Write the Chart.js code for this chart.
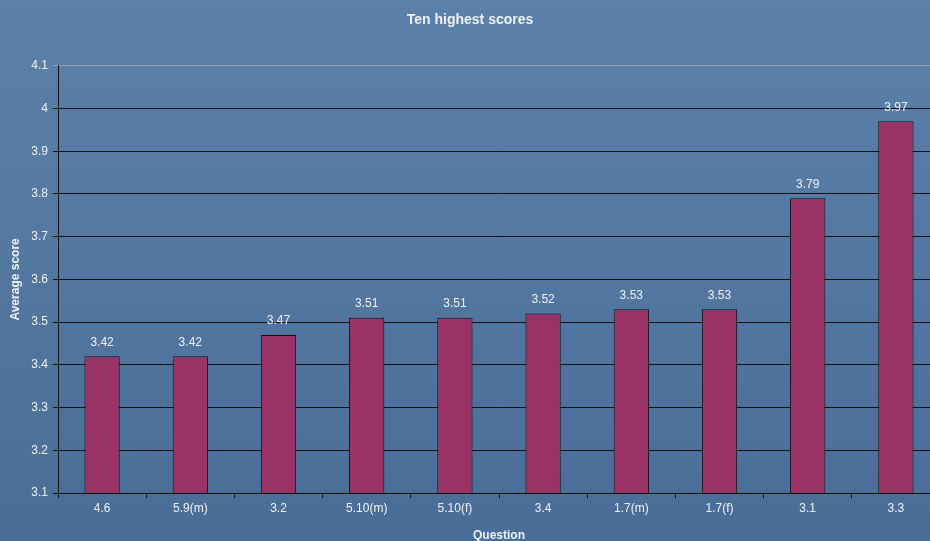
<!DOCTYPE html>
<html lang="en">
<head>
<meta charset="UTF-8">
<title>Ten highest scores</title>
<script src="https://cdn.jsdelivr.net/npm/chart.js"></script>
<style>
    html, body { margin: 0; padding: 0; overflow: hidden; background: #5478a2; }
    .chart-container { position: relative; width: 940px; height: 541px; }
</style>
</head>
<body>
<div class="chart-container">
    <canvas id="scoresChart"></canvas>
</div>
<script>
    const questions = ['4.6', '5.9(m)', '3.2', '5.10(m)', '5.10(f)', '3.4', '1.7(m)', '1.7(f)', '3.1', '3.3'];
    const averageScores = [3.42, 3.42, 3.47, 3.51, 3.51, 3.52, 3.53, 3.53, 3.79, 3.97];
    const yMin = 3.1;
    const yMax = 4.1;
    const yStep = 0.1;

    const textColor = '#eef2f7';
    const fontFamily = '"Liberation Sans", Arial, sans-serif';

    const background = {
        id: 'background',
        beforeDraw(chart) {
            const ctx = chart.ctx;
            const g = ctx.createLinearGradient(0, 0, 0, chart.height);
            g.addColorStop(0, '#5b81aa');
            g.addColorStop(1, '#4a6d97');
            ctx.save();
            ctx.fillStyle = g;
            ctx.fillRect(0, 0, chart.width, chart.height);
            ctx.restore();
        }
    };

    const valueLabels = {
        id: 'valueLabels',
        afterDatasetsDraw(chart) {
            const ctx = chart.ctx;
            const meta = chart.getDatasetMeta(0);
            ctx.save();
            ctx.fillStyle = textColor;
            ctx.font = '12px ' + fontFamily;
            ctx.textAlign = 'center';
            ctx.textBaseline = 'middle';
            meta.data.forEach((bar, i) => {
                ctx.fillText(averageScores[i].toFixed(2), bar.x, bar.y - 14);
            });
            ctx.restore();
        }
    };

    new Chart(document.getElementById('scoresChart'), {
        type: 'bar',
        data: {
            labels: questions,
            datasets: [{
                data: averageScores,
                backgroundColor: '#993366',
                borderColor: '#111111',
                borderWidth: 1,
                borderSkipped: false,
                barPercentage: 0.4,
                categoryPercentage: 1
            }]
        },
        options: {
            responsive: true,
            maintainAspectRatio: false,
            animation: false,
            layout: { padding: 0 },
            plugins: {
                legend: { display: false },
                tooltip: { enabled: false },
                title: {
                    display: true,
                    text: 'Ten highest scores',
                    color: textColor,
                    font: { family: fontFamily, size: 14, weight: 'bold' },
                    padding: { top: 12, bottom: 37 }
                }
            },
            scales: {
                x: {
                    grid: {
                        drawOnChartArea: false,
                        color: '#111111',
                        tickLength: 5,
                        offset: true
                    },
                    border: { color: '#111111', width: 1 },
                    ticks: {
                        color: textColor,
                        font: { family: fontFamily, size: 12 },
                        padding: 3,
                        maxRotation: 0
                    },
                    title: {
                        display: true,
                        text: 'Question',
                        color: textColor,
                        font: { family: fontFamily, size: 12, weight: 'bold' },
                        padding: { top: 0, bottom: -2 }
                    },
                    afterFit(scale) { scale.height = 48; }
                },
                y: {
                    min: yMin,
                    max: yMax,
                    grid: {
                        color: ctx => (ctx.tick && Math.abs(ctx.tick.value - yMax) < 1e-6) ? 'rgba(160,170,180,0.9)' : '#111111',
                        tickLength: 5
                    },
                    border: { color: '#111111', width: 1 },
                    ticks: {
                        stepSize: yStep,
                        color: textColor,
                        font: { family: fontFamily, size: 12 },
                        padding: 5,
                        callback: v => Number(v.toFixed(1)).toString()
                    },
                    title: {
                        display: true,
                        text: 'Average score',
                        color: textColor,
                        font: { family: fontFamily, size: 12, weight: 'bold' },
                        padding: { top: 8, bottom: 0 }
                    },
                    afterFit(scale) { scale.width = 58; }
                }
            }
        },
        plugins: [background, valueLabels]
    });
</script>
</body>
</html>
